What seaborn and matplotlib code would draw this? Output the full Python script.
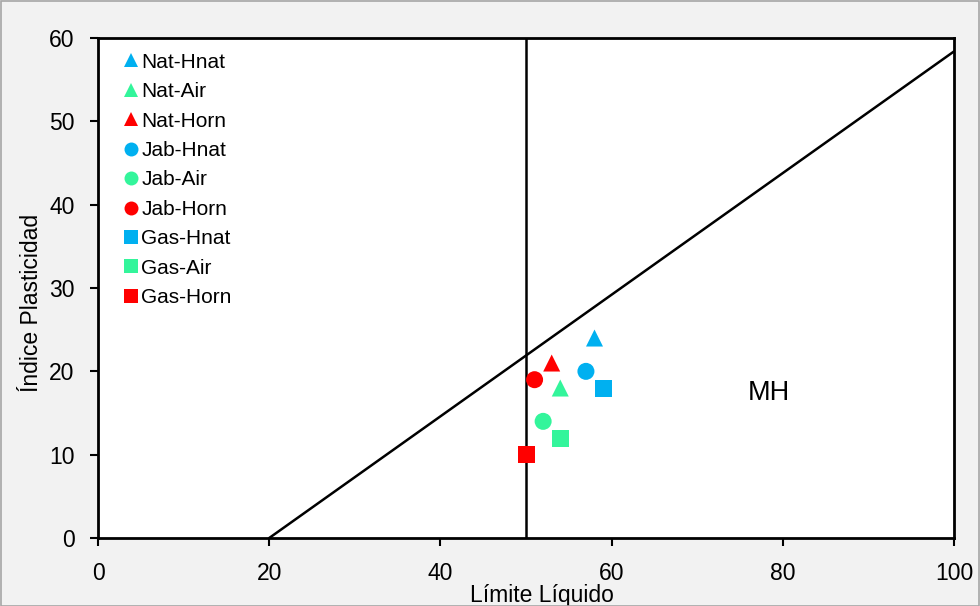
import matplotlib
matplotlib.use("Agg")
import matplotlib.pyplot as plt
import seaborn as sns
import pandas as pd

names = ["Nat-Hnat", "Nat-Air", "Nat-Horn", "Jab-Hnat", "Jab-Air", "Jab-Horn",
         "Gas-Hnat", "Gas-Air", "Gas-Horn"]
ll = [58, 54, 53, 57, 52, 51, 59, 54, 50]
pi = [24, 18, 21, 20, 14, 19, 18, 12, 10]
colors = ["#00B0F0", "#33F59B", "#FF0000"] * 3
marker_list = ["^"] * 3 + ["o"] * 3 + ["s"] * 3

aline_x = [20, 100]
aline_y = [0, 58.4]
vline_x = [50, 50]
vline_y = [0, 60]

sns.set_theme(style="white")
plt.rcParams["font.family"] = ["Liberation Sans", "DejaVu Sans"]
plt.rcParams["text.color"] = "black"
plt.rcParams["axes.labelcolor"] = "black"

fig = plt.figure(figsize=(9.8, 6.06), dpi=100, facecolor="#F2F2F2")
ax = fig.add_axes([0.1, 0.1122, 0.8735, 0.825])
ax.set_facecolor("white")

df = pd.DataFrame({"LL": ll, "PI": pi, "name": names})
sns.scatterplot(data=df, x="LL", y="PI", hue="name", style="name",
                palette=dict(zip(names, colors)), markers=dict(zip(names, marker_list)),
                s=150, linewidth=0, ax=ax, zorder=3)

ax.plot(aline_x, aline_y, color="black", lw=1.8, zorder=2)
ax.plot(vline_x, vline_y, color="black", lw=1.8, zorder=2)

ax.set_xlim(0, 100)
ax.set_ylim(0, 60)
ax.set_xticks([0, 20, 40, 60, 80, 100])
ax.set_yticks([0, 10, 20, 30, 40, 50, 60])
ax.tick_params(axis="both", labelsize=16.5, length=6, width=1.5, direction="out",
               colors="black", bottom=True, left=True)
ax.tick_params(axis="x", pad=11)
ax.tick_params(axis="y", pad=11)
for s in ax.spines.values():
    s.set_color("black")
    s.set_linewidth(2)

ax.set_xlabel("Límite Líquido", fontsize=16.5)
ax.xaxis.set_label_coords(0.519, -0.114)
ax.xaxis.label.set_va("center")
ax.set_ylabel("Índice Plasticidad", fontsize=16.5)
ax.yaxis.set_label_coords(-0.078, 0.47)
ax.yaxis.label.set_va("center")

ax.text(78.4, 17.4, "MH", fontsize=19.5, ha="center", va="center")

leg = ax.legend(loc="upper left", bbox_to_anchor=(0.01, 1.004), frameon=False,
                fontsize=15, handlelength=0.75, handletextpad=0.12, labelspacing=0.5,
                markerscale=0.82, borderpad=0.3)

border = plt.Rectangle((0.5 / 980, 0.5 / 606), 1 - 1.5 / 980, 1 - 1.5 / 606,
                       transform=fig.transFigure, fill=False, edgecolor="#A6A6A6", lw=1.2)
fig.patches.append(border)

fig.savefig("out.png", dpi=100, facecolor=fig.get_facecolor())
